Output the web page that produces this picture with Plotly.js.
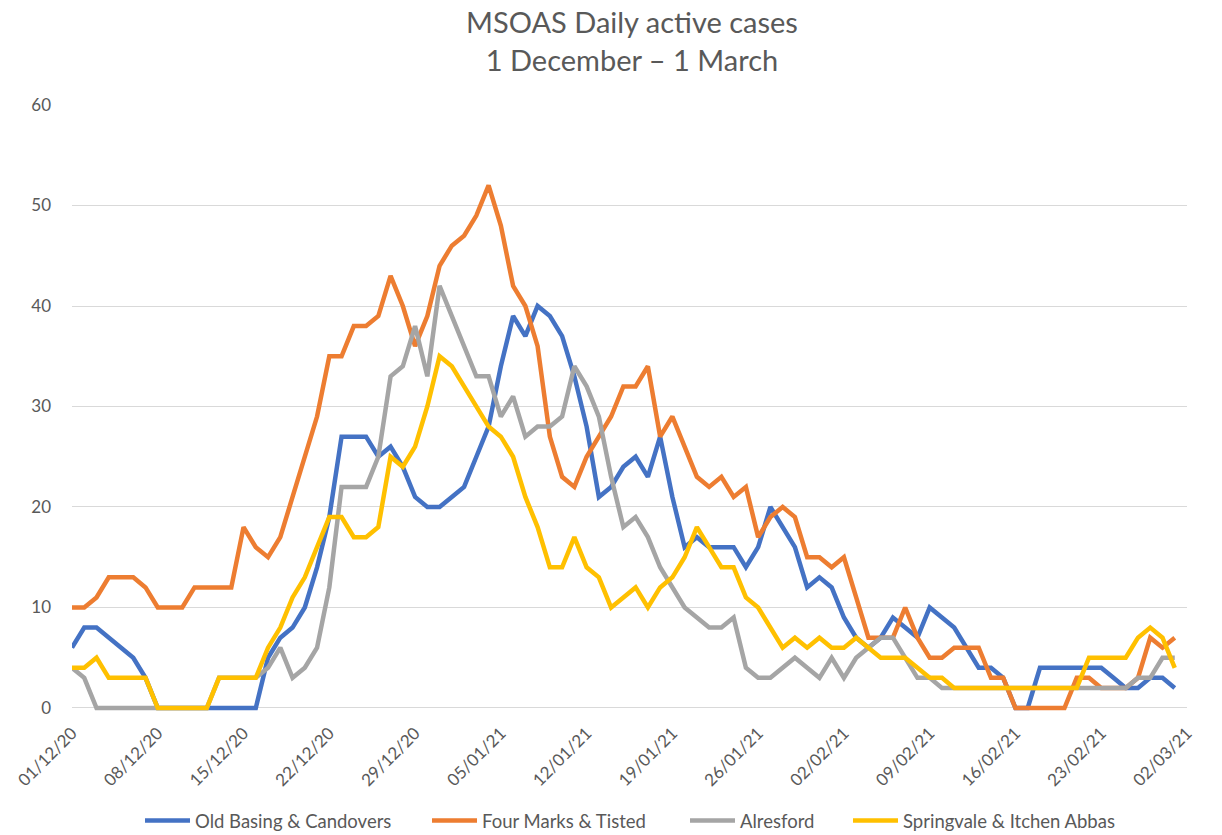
<!DOCTYPE html>
<html>
<head>
<meta charset="utf-8">
<script src="https://cdn.plot.ly/plotly-3.0.1.min.js"></script>
<style>
html,body{margin:0;padding:0;background:#fff;}
#chart{width:1222px;height:835px;}
</style>
</head>
<body>
<div id="chart"></div>
<script>
// Dates (1 Dec 2020 - 1 Mar 2021)
const dates = [
"2020-12-01","2020-12-02","2020-12-03","2020-12-04","2020-12-05","2020-12-06","2020-12-07","2020-12-08","2020-12-09","2020-12-10",
"2020-12-11","2020-12-12","2020-12-13","2020-12-14","2020-12-15","2020-12-16","2020-12-17","2020-12-18","2020-12-19","2020-12-20",
"2020-12-21","2020-12-22","2020-12-23","2020-12-24","2020-12-25","2020-12-26","2020-12-27","2020-12-28","2020-12-29","2020-12-30",
"2020-12-31","2021-01-01","2021-01-02","2021-01-03","2021-01-04","2021-01-05","2021-01-06","2021-01-07","2021-01-08","2021-01-09",
"2021-01-10","2021-01-11","2021-01-12","2021-01-13","2021-01-14","2021-01-15","2021-01-16","2021-01-17","2021-01-18","2021-01-19",
"2021-01-20","2021-01-21","2021-01-22","2021-01-23","2021-01-24","2021-01-25","2021-01-26","2021-01-27","2021-01-28","2021-01-29",
"2021-01-30","2021-01-31","2021-02-01","2021-02-02","2021-02-03","2021-02-04","2021-02-05","2021-02-06","2021-02-07","2021-02-08",
"2021-02-09","2021-02-10","2021-02-11","2021-02-12","2021-02-13","2021-02-14","2021-02-15","2021-02-16","2021-02-17","2021-02-18",
"2021-02-19","2021-02-20","2021-02-21","2021-02-22","2021-02-23","2021-02-24","2021-02-25","2021-02-26","2021-02-27","2021-02-28",
"2021-03-01"
];

const oldBasing = [
6,8,8,7,6,5,3,0,0,0,
0,0,0,0,0,0,5,7,8,10,
14,19,27,27,27,25,26,24,21,20,
20,21,22,25,28,34,39,37,40,39,
37,33,28,21,22,24,25,23,27,21,
16,17,16,16,16,14,16,20,18,16,
12,13,12,9,7,6,7,9,8,7,
10,9,8,6,4,4,3,0,0,4,
4,4,4,4,4,3,2,2,3,3,
2
];

const fourMarks = [
10,10,11,13,13,13,12,10,10,10,
12,12,12,12,18,16,15,17,21,25,
29,35,35,38,38,39,43,40,36,39,
44,46,47,49,52,48,42,40,36,27,
23,22,25,27,29,32,32,34,27,29,
26,23,22,23,21,22,17,19,20,19,
15,15,14,15,11,7,7,7,10,7,
5,5,6,6,6,3,3,0,0,0,
0,0,3,3,2,2,2,3,7,6,
7
];

const alresford = [
4,3,0,0,0,0,0,0,0,0,
0,0,3,3,3,3,4,6,3,4,
6,12,22,22,22,25,33,34,38,33,
42,39,36,33,33,29,31,27,28,28,
29,34,32,29,23,18,19,17,14,12,
10,9,8,8,9,4,3,3,4,5,
4,3,5,3,5,6,7,7,5,3,
3,2,2,2,2,2,2,2,2,2,
2,2,2,2,2,2,2,3,3,5,
5
];

const springvale = [
4,4,5,3,3,3,3,0,0,0,
0,0,3,3,3,3,6,8,11,13,
16,19,19,17,17,18,25,24,26,30,
35,34,32,30,28,27,25,21,18,14,
14,17,14,13,10,11,12,10,12,13,
15,18,16,14,14,11,10,8,6,7,
6,7,6,6,7,6,5,5,5,4,
3,3,2,2,2,2,2,2,2,2,
2,2,2,5,5,5,5,7,8,7,
4
];

const seriesNames = ["Old Basing & Candovers","Four Marks & Tisted","Alresford","Springvale & Itchen Abbas"];
const seriesValues = [oldBasing, fourMarks, alresford, springvale];
const seriesColors = ["#4472C4","#ED7D31","#A5A5A5","#FFC000"];
const legendLeftPx = [140, 427, 685, 848];

const W = 1222, H = 835;
const fontFam = "Lato, 'Open Sans', sans-serif";
const txtCol = "#595959";

const traces = seriesValues.map((vals, k) => ({
  type: "scatter",
  mode: "lines",
  x: dates,
  y: vals,
  name: seriesNames[k],
  line: {color: seriesColors[k], width: 4.5, shape: "linear"},
  legend: k === 0 ? "legend" : "legend" + (k + 1),
  hoverinfo: "x+y+name"
}));

const layout = {
  width: W,
  height: H,
  paper_bgcolor: "#ffffff",
  plot_bgcolor: "#ffffff",
  margin: {l: 72, r: 35, t: 105, b: 124},
  font: {family: fontFam, color: txtCol, size: 17},
  title: {
    text: "MSOAS Daily active cases<br>1 December – 1 March",
    font: {family: fontFam, size: 29, color: txtCol},
    xref: "container", x: 632 / W, xanchor: "center",
    yref: "container", y: 1 - 33 / H, yanchor: "top"
  },
  xaxis: {
    type: "date",
    range: ["2020-12-01", "2021-03-02"],
    tick0: "2020-12-01",
    dtick: 7 * 24 * 3600 * 1000,
    tickformat: "%d/%m/%y",
    tickangle: -45,
    showgrid: false,
    showline: false,
    zeroline: false,
    ticks: "",
    ticklabelstandoff: 8,
    tickfont: {family: fontFam, size: 17, color: txtCol}
  },
  yaxis: {
    range: [-0.3, 60],
    tick0: 0,
    dtick: 10,
    showgrid: true,
    gridcolor: "#D9D9D9",
    gridwidth: 1,
    zeroline: true,
    zerolinecolor: "#D9D9D9",
    zerolinewidth: 1,
    showline: false,
    ticks: "",
    ticklabelstandoff: 20,
    tickfont: {family: fontFam, size: 17, color: txtCol}
  },
  showlegend: true
};

const legendBase = (k) => ({
  orientation: "h",
  xref: "container", yref: "container",
  x: legendLeftPx[k] / W, xanchor: "left",
  y: 1 - 821 / H, yanchor: "middle",
  bgcolor: "rgba(0,0,0,0)",
  borderwidth: 0,
  itemwidth: 45,
  font: {family: fontFam, size: 18.5, color: txtCol}
});
layout.legend = legendBase(0);
layout.legend2 = legendBase(1);
layout.legend3 = legendBase(2);
layout.legend4 = legendBase(3);

Plotly.newPlot("chart", traces, layout, {displayModeBar: false, staticPlot: true});
</script>
</body>
</html>
